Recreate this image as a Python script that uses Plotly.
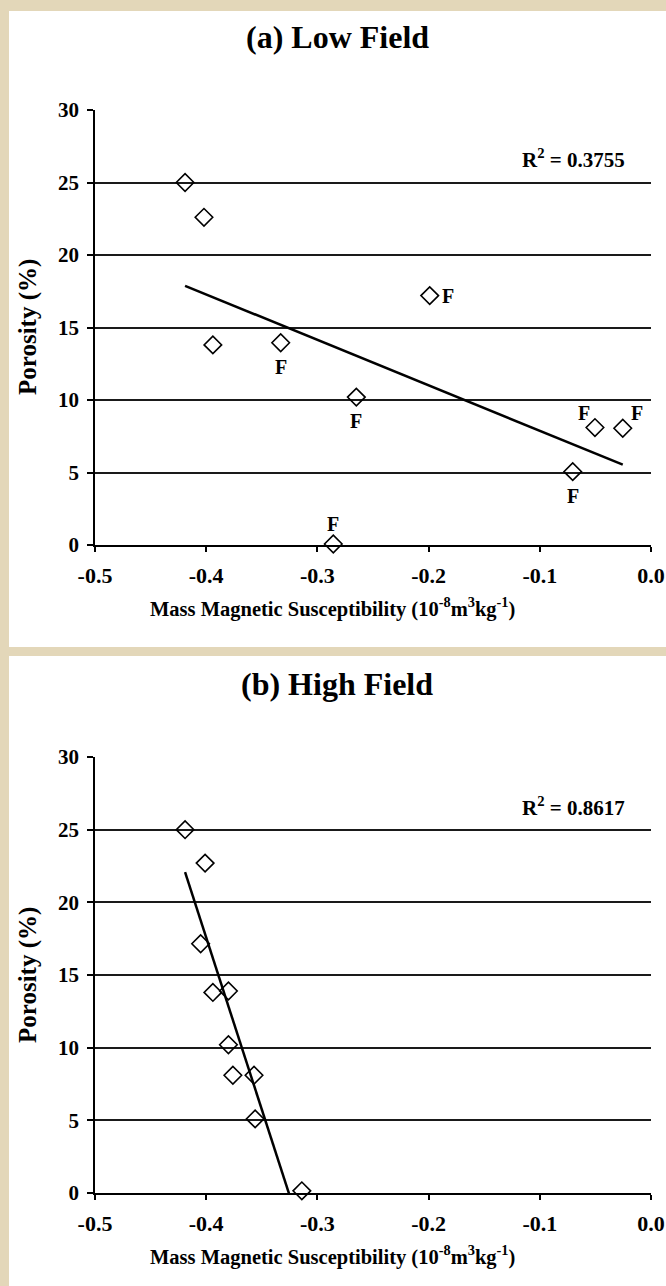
import numpy as np
import plotly.graph_objects as go

# ---------------- data ----------------
low_x = [-0.419, -0.402, -0.394, -0.333, -0.265, -0.199, -0.0704, -0.0504, -0.0254, -0.2857]
low_y = [25.0, 22.6, 13.8, 13.95, 10.2, 17.2, 5.06, 8.1, 8.05, 0.07]
low_lab = ["", "", "", "F", "F", "F", "F", "F", "F", "F"]
low_pos = ["", "", "", "below", "below", "right", "below", "top-left", "top-right", "top"]
low_r2 = "R<sup>2</sup> = 0.3755"

high_x = [-0.419, -0.401, -0.405, -0.394, -0.380, -0.380, -0.376, -0.357, -0.356, -0.314]
high_y = [25.0, 22.7, 17.15, 13.8, 13.9, 10.2, 8.1, 8.1, 5.1, 0.15]
high_r2 = "R<sup>2</sup> = 0.8617"

x_ticks = [-0.5, -0.4, -0.3, -0.2, -0.1, 0.0]
y_ticks = [0, 5, 10, 15, 20, 25, 30]

titles = ["(a) Low Field", "(b) High Field"]
x_title = "Mass Magnetic Susceptibility (10<sup>-8</sup>m<sup>3</sup>kg<sup>-1</sup>)"
y_title = "Porosity (%)"

# ---------------- layout constants ----------------
W, H = 666, 1286
FONT = "Liberation Serif"
BEIGE = "#e3d7b9"
LABEL_SHIFT = {"below": (0, -24), "right": (18, 0), "top-left": (-11, 15),
               "top-right": (14, 15), "top": (0, 20)}

def py(p):  # pixel y (from top) -> paper
    return 1 - p / H

def px(p):
    return p / W

fig = go.Figure()

def trend(xs, ys):
    xs = np.array(xs); ys = np.array(ys)
    m, b = np.polyfit(xs, ys, 1)
    xl = np.array([xs.min(), xs.max()])
    return xl, m * xl + b

marker = dict(symbol="diamond-open", size=13.5, color="black", line=dict(width=1.6, color="black"))

# panel a
tx, ty = trend(low_x, low_y)
fig.add_trace(go.Scatter(x=tx, y=ty, mode="lines", line=dict(color="black", width=2.5),
                         xaxis="x", yaxis="y", showlegend=False, hoverinfo="skip"))
fig.add_trace(go.Scatter(x=low_x, y=low_y, mode="markers", marker=marker,
                         xaxis="x", yaxis="y", showlegend=False, cliponaxis=False))
# panel b
tx2, ty2 = trend(high_x, high_y)
fig.add_trace(go.Scatter(x=tx2, y=ty2, mode="lines", line=dict(color="black", width=2.5),
                         xaxis="x2", yaxis="y2", showlegend=False, hoverinfo="skip"))
fig.add_trace(go.Scatter(x=high_x, y=high_y, mode="markers", marker=marker,
                         xaxis="x2", yaxis="y2", showlegend=False, cliponaxis=False))

xdom = [px(95), px(651)]
ydom_a = [py(545), py(110)]
ydom_b = [py(1193), py(757)]

xtickfont = dict(family=FONT, size=22, color="black", weight="bold")
ytickfont = dict(family=FONT, size=21, color="black", weight="bold")

def xax(anchor):
    return dict(domain=xdom, range=[-0.5, 0.0], tickvals=x_ticks,
                ticktext=[f"{v:.1f}" for v in x_ticks],
                showgrid=False, zeroline=False, showline=True, linecolor="black", linewidth=1.5,
                ticks="outside", ticklen=5, tickcolor="black", tickwidth=1.5,
                tickfont=xtickfont, anchor=anchor, fixedrange=True, ticklabelstandoff=5,
                automargin=False)

def yax(anchor, dom):
    return dict(domain=dom, range=[0, 30], tickvals=y_ticks, showgrid=True, gridcolor="#1a1a1a",
                gridwidth=1.5, zeroline=False, showline=True, linecolor="black", linewidth=1.5,
                ticks="outside", ticklen=6, tickcolor="black", tickwidth=1.5,
                tickfont=ytickfont, anchor=anchor, fixedrange=True, ticklabelstandoff=4,
                automargin=False)

shapes = [
    dict(type="rect", xref="paper", yref="paper", x0=px(9), x1=1.0, y0=py(647), y1=py(11),
         fillcolor="white", line=dict(width=0), layer="below"),
    dict(type="rect", xref="paper", yref="paper", x0=px(9), x1=1.0, y0=0.0, y1=py(656),
         fillcolor="white", line=dict(width=0), layer="below"),
]

ann = []
for x, y, l, p in zip(low_x, low_y, low_lab, low_pos):
    if not l:
        continue
    dx, dy = LABEL_SHIFT[p]
    ann.append(dict(text=l, x=x, y=y, xref="x", yref="y", showarrow=False, xshift=dx, yshift=dy,
                    font=dict(family=FONT, size=20, color="black", weight="bold"),
                    xanchor="center", yanchor="middle"))
for t, yc in zip(titles, [37, 684]):
    ann.append(dict(text=t, x=px(337), y=py(yc), xref="paper", yref="paper", showarrow=False,
                    font=dict(family=FONT, size=32, color="black", weight="bold"),
                    xanchor="center", yanchor="middle"))
for yc in [607, 1255]:
    ann.append(dict(text=x_title, x=px(332), y=py(yc), xref="paper", yref="paper", showarrow=False,
                    font=dict(family=FONT, size=20.5, color="black", weight="bold"),
                    xanchor="center", yanchor="middle"))
for yc in [327, 975]:
    ann.append(dict(text=y_title, x=px(28), y=py(yc), xref="paper", yref="paper", showarrow=False,
                    textangle=-90, font=dict(family=FONT, size=25, color="black", weight="bold"),
                    xanchor="center", yanchor="middle"))
for r2, yc in zip([low_r2, high_r2], [158, 806]):
    ann.append(dict(text=r2, x=px(627), y=py(yc), xref="paper", yref="paper", showarrow=False,
                    font=dict(family=FONT, size=21, color="black", weight="bold"),
                    xanchor="right", yanchor="middle"))

fig.update_layout(
    width=W, height=H, margin=dict(l=0, r=0, t=0, b=0, pad=0, autoexpand=False),
    paper_bgcolor=BEIGE, plot_bgcolor="white",
    xaxis=xax("y"), yaxis=yax("x", ydom_a),
    xaxis2=xax("y2"), yaxis2=yax("x2", ydom_b),
    shapes=shapes, annotations=ann, showlegend=False,
)

fig.write_html("out.html")
